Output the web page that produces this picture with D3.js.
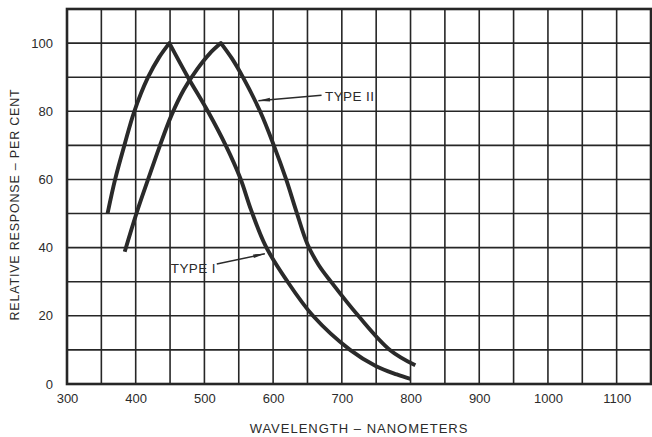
<!DOCTYPE html>
<html>
<head>
<meta charset="utf-8">
<script src="https://cdn.jsdelivr.net/npm/d3@7"></script>
<style>
  body { margin: 0; background: #fff; }
  svg { display: block; }
  text { font-family: "Liberation Sans", Arial, Helvetica, sans-serif; fill: #2b2b2b; }
</style>
</head>
<body>
<svg id="chart" width="652" height="437"></svg>
<script>
// ---- data ----
const xTicks = [300, 400, 500, 600, 700, 800, 900, 1000, 1100];
const yTicks = [0, 20, 40, 60, 80, 100];
const typeI_nm  = [359, 370, 383.5, 398, 418, 434, 449, 476, 505, 531, 552, 568, 589, 620, 658, 712, 750, 780, 800];
const typeI_val = [50,  60,  70,    80,  90,  95.8, 100, 90,  80,  70,  60.5, 51, 40.5, 30.3, 20, 10, 5.2, 2.8, 1.5];
const typeII_nm  = [384, 401, 418, 435, 452, 470, 490, 508, 524, 540, 556, 581, 601, 619, 634, 650, 666, 685, 724, 770, 807];
const typeII_val = [38.8, 50, 60,  69.8, 78.8, 86.3, 92.5, 97, 100, 95.5, 90, 80, 70, 60, 50.5, 41, 35, 29.8, 20, 10, 5.5];
const seriesLabels = ["TYPE I", "TYPE II"];

// ---- layout ----
const svg = d3.select("#chart");
const m = { left: 67, right: 651, top: 9, bottom: 384 };
const x = d3.scaleLinear().domain([300, 1150]).range([m.left, m.right]);
const y = d3.scaleLinear().domain([0, 110]).range([m.bottom, m.top]);
const ink = "#262626";

// grid
const g = svg.append("g");
g.selectAll("line.v").data(d3.range(350, 1150, 50)).enter().append("line")
  .attr("x1", d => x(d)).attr("x2", d => x(d)).attr("y1", y(0)).attr("y2", y(110))
  .attr("stroke", ink).attr("stroke-width", 1.6);
g.selectAll("line.h").data(d3.range(10, 110, 10)).enter().append("line")
  .attr("y1", d => y(d)).attr("y2", d => y(d)).attr("x1", x(300)).attr("x2", x(1150))
  .attr("stroke", ink).attr("stroke-width", 1.6);
g.append("rect").attr("x", x(300)).attr("y", y(110))
  .attr("width", x(1150) - x(300)).attr("height", y(0) - y(110))
  .attr("fill", "none").attr("stroke", ink).attr("stroke-width", 2.6);

// axes (labels only)
const xAxis = d3.axisBottom(x).tickValues(xTicks).tickFormat(d3.format("d")).tickSize(0).tickPadding(10);
const xa = svg.append("g").attr("transform", `translate(0,${y(0)})`).call(xAxis);
const yAxis = d3.axisLeft(y).tickValues(yTicks).tickFormat(d3.format("d")).tickSize(0).tickPadding(14);
const ya = svg.append("g").attr("transform", `translate(${x(300)},0)`).call(yAxis);
[xa, ya].forEach(a => {
  a.select(".domain").remove();
  a.selectAll("text").style("font-size", "13px").attr("fill", "#2b2b2b")
    .style("font-family", '"Liberation Sans", Arial, sans-serif');
});

// titles
svg.append("text").attr("x", (m.left + m.right) / 2).attr("y", 433)
  .attr("text-anchor", "middle").style("font-size", "13px").style("letter-spacing", "1px")
  .text("WAVELENGTH – NANOMETERS");
svg.append("text").attr("transform", `translate(19,${(m.top + m.bottom) / 2 + 8}) rotate(-90)`)
  .attr("text-anchor", "middle").style("font-size", "12.5px").style("letter-spacing", "0.8px")
  .text("RELATIVE RESPONSE – PER CENT");

// curves: each drawn as a rising and a falling smooth branch joined at the peak
const line = d3.line().x(d => x(d[0])).y(d => y(d[1])).curve(d3.curveCatmullRom.alpha(0.5));
function curvePath(nm, val) {
  const pts = nm.map((d, i) => [d, val[i]]);
  const pk = d3.maxIndex(val);
  const up = pts.slice(0, pk + 1), down = pts.slice(pk);
  return line(up) + line(down).replace(/^M/, "L");
}
[[typeI_nm, typeI_val], [typeII_nm, typeII_val]].forEach(([a, b]) => {
  svg.append("path").attr("d", curvePath(a, b)).attr("fill", "none")
    .attr("stroke", "#2a2a2a").attr("stroke-width", 3.9)
    .attr("stroke-linejoin", "round").attr("stroke-linecap", "butt");
});

// annotations
const defs = svg.append("defs");
defs.append("marker").attr("id", "ah").attr("viewBox", "0 0 14 6")
  .attr("refX", 14).attr("refY", 3).attr("markerWidth", 14).attr("markerHeight", 5)
  .attr("markerUnits", "userSpaceOnUse").attr("orient", "auto")
  .append("path").attr("d", "M0,0.8 L14,3 L0,5.2 Z").attr("fill", "#2a2a2a");

// TYPE II label & arrow
svg.append("text").attr("x", x(675.5)).attr("y", y(83.0)).style("font-size", "13.5px")
  .style("letter-spacing", "0.4px").text(seriesLabels[1]);
svg.append("line").attr("x1", x(670.5)).attr("y1", y(84.7)).attr("x2", x(578.5)).attr("y2", y(83.1))
  .attr("stroke", "#2a2a2a").attr("stroke-width", 1.4).attr("marker-end", "url(#ah)");
// TYPE I label & arrow
svg.append("text").attr("x", x(451)).attr("y", y(32.7)).style("font-size", "13.5px")
  .style("letter-spacing", "0.4px").text(seriesLabels[0]);
svg.append("line").attr("x1", x(518)).attr("y1", y(35.2)).attr("x2", x(588)).attr("y2", y(38.2))
  .attr("stroke", "#2a2a2a").attr("stroke-width", 1.4).attr("marker-end", "url(#ah)");
</script>
</body>
</html>
